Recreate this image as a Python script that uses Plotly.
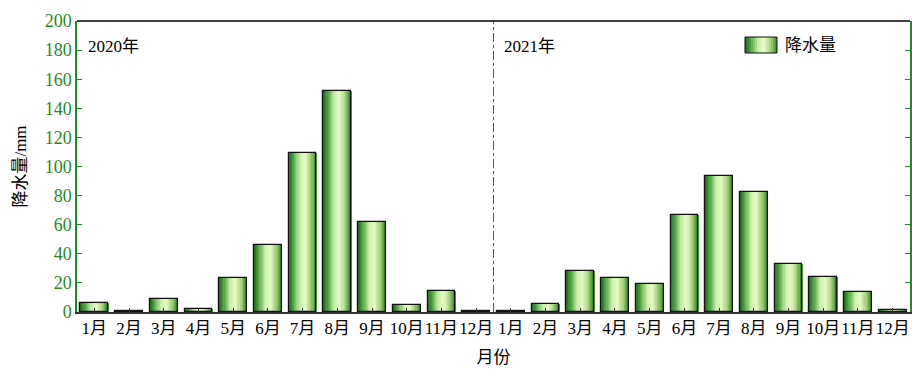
import plotly.graph_objects as go

# Monthly precipitation (mm), Jan 2020 - Dec 2021
months = ["1月", "2月", "3月", "4月", "5月", "6月", "7月", "8月", "9月", "10月", "11月", "12月"]
rain_2020 = [6.0, 1.0, 8.6, 2.0, 23.6, 46.3, 109.0, 152.0, 61.6, 4.6, 14.2, 0.6]
rain_2021 = [0.4, 5.5, 28.0, 23.4, 19.0, 66.7, 93.7, 82.3, 32.8, 24.3, 13.5, 1.4]

tick_labels = months + months
values = rain_2020 + rain_2021
xpos = list(range(len(values)))

GREEN = "#1e8c1e"
FONT = "Liberation Serif, Times New Roman, Noto Sans CJK SC, serif"
BAR_W = 0.8
N_STRIPS = 24

# horizontal gradient stops across a bar (0 = left edge, 1 = right edge)
stops = [
    (0.00, (18, 105, 18)),
    (0.20, (95, 170, 75)),
    (0.42, (205, 240, 170)),
    (0.60, (230, 250, 198)),
    (0.80, (165, 212, 125)),
    (1.00, (55, 135, 45)),
]


def grad(t):
    for (t0, c0), (t1, c1) in zip(stops[:-1], stops[1:]):
        if t0 <= t <= t1:
            f = (t - t0) / (t1 - t0)
            r, g, b = (round(a + (b_ - a) * f) for a, b_ in zip(c0, c1))
            return f"rgb({r},{g},{b})"
    return f"rgb{stops[-1][1]}"


fig = go.Figure()

strip = BAR_W / N_STRIPS
for i in range(N_STRIPS):
    t = (i + 0.5) / N_STRIPS
    fig.add_trace(go.Bar(
        x=xpos, y=values,
        width=strip * 1.35, offset=-BAR_W / 2 + i * strip,
        marker=dict(color=grad(t), line=dict(width=0)),
        showlegend=False, hoverinfo="skip",
    ))

# outline of each bar
fig.add_trace(go.Bar(
    x=xpos, y=values, width=BAR_W,
    marker=dict(color="rgba(0,0,0,0)", line=dict(color="#111", width=1.2)),
    name="降水量", showlegend=False,
))

# layout geometry (pixels)
W, H = 912, 369
ML, MR, MT, MB = 77, 2, 21, 57
PW, PH = W - ML - MR, H - MT - MB


def px_x(p):
    return (p - ML) / PW


def px_y(p):
    return 1 - (p - MT) / PH


shapes = [
    # year divider
    dict(type="line", xref="x", yref="paper", x0=11.5, x1=11.5, y0=0, y1=1,
         line=dict(color="#555", width=1, dash="dashdot")),
    # top frame line
    dict(type="line", xref="paper", yref="paper", x0=0, x1=1, y0=1, y1=1,
         line=dict(color="#000", width=1.5)),
]

# legend swatch with the same gradient
lx0, lx1, ly0, ly1 = 745, 777, 37, 53
n_sw = 16
for i in range(n_sw):
    a = lx0 + (lx1 - lx0) * i / n_sw
    b = lx0 + (lx1 - lx0) * (i + 1.3) / n_sw
    b = min(b, lx1)
    shapes.append(dict(type="rect", xref="paper", yref="paper",
                       x0=px_x(a), x1=px_x(b), y0=px_y(ly1), y1=px_y(ly0),
                       fillcolor=grad((i + 0.5) / n_sw), line=dict(width=0), layer="above"))
shapes.append(dict(type="rect", xref="paper", yref="paper",
                   x0=px_x(lx0), x1=px_x(lx1), y0=px_y(ly1), y1=px_y(ly0),
                   fillcolor="rgba(0,0,0,0)", line=dict(color="#111", width=1), layer="above"))

annotations = [
    dict(text="2020年", xref="paper", yref="paper", x=px_x(86), y=px_y(46),
         xanchor="left", yanchor="middle", showarrow=False,
         font=dict(family=FONT, size=17, color="#000")),
    dict(text="2021年", xref="paper", yref="paper", x=px_x(502), y=px_y(46),
         xanchor="left", yanchor="middle", showarrow=False,
         font=dict(family=FONT, size=17, color="#000")),
    dict(text="降水量", xref="paper", yref="paper", x=px_x(783), y=px_y(45),
         xanchor="left", yanchor="middle", showarrow=False,
         font=dict(family=FONT, size=17, color="#000")),
]

fig.update_layout(
    width=W, height=H,
    margin=dict(l=ML, r=MR, t=MT, b=MB, pad=0, autoexpand=False),
    paper_bgcolor="white", plot_bgcolor="white",
    barmode="overlay", bargap=0,
    font=dict(family=FONT, color="#000"),
    shapes=shapes, annotations=annotations,
    xaxis=dict(
        range=[-0.5, len(values) - 0.5],
        tickmode="array", tickvals=xpos, ticktext=tick_labels,
        tickangle=0, automargin=False,
        ticks="inside", ticklen=4, tickcolor="#333", tickwidth=1,
        showline=True, linecolor="#333", linewidth=1.5,
        showgrid=False, zeroline=False,
        tickfont=dict(family=FONT, size=17, color="#000"),
        title=dict(text="月份", font=dict(family=FONT, size=17, color="#000"), standoff=14),
    ),
    yaxis=dict(
        range=[0, 200], dtick=20, tick0=0, automargin=False,
        ticks="inside", ticklen=5, tickcolor=GREEN, tickwidth=1.2,
        showline=True, linecolor=GREEN, linewidth=1.5, mirror="ticks",
        showgrid=False, zeroline=False,
        tickfont=dict(family=FONT, size=18, color=GREEN),
        title=dict(text="降水量/mm", font=dict(family=FONT, size=17, color="#000"), standoff=14),
    ),
)

fig.write_html("out.html")
